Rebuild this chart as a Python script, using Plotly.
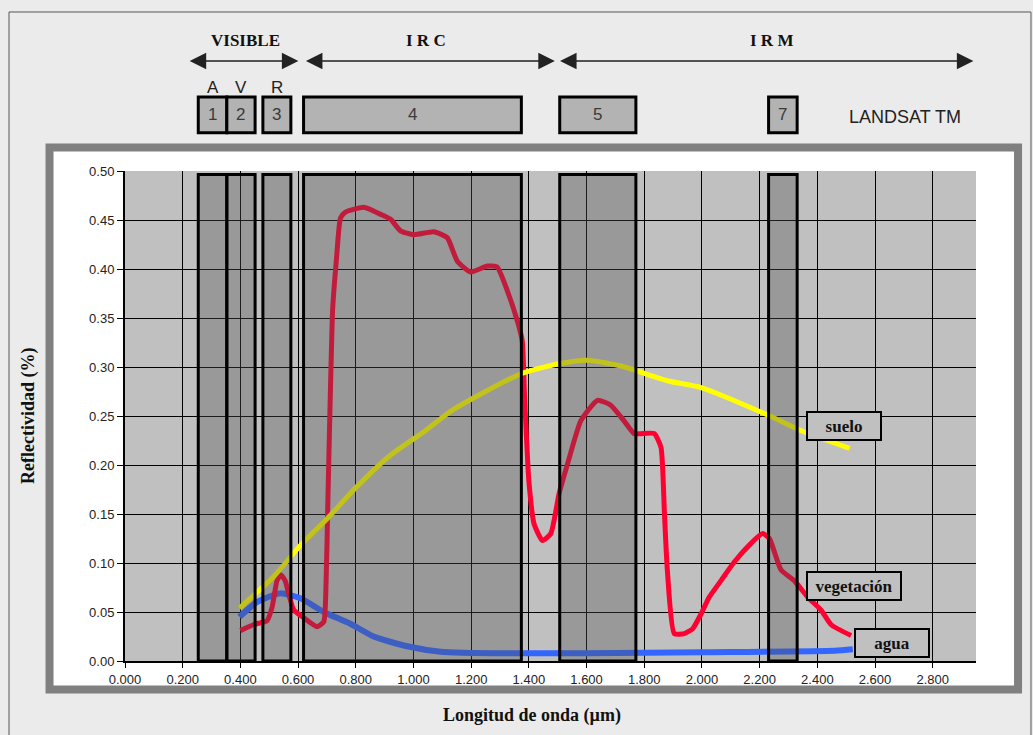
import plotly.graph_objects as go

# ---------------- data ----------------
veg_x = [0.400, 0.445, 0.469, 0.492, 0.510, 0.527, 0.540, 0.555, 0.567, 0.585, 0.620, 0.666, 0.689,
         0.697, 0.703, 0.710, 0.720, 0.733, 0.747, 0.764, 0.828, 0.885, 0.920, 0.955, 1.001, 1.070,
         1.117, 1.152, 1.198, 1.256, 1.290, 1.325, 1.360, 1.377, 1.385, 1.400, 1.418, 1.447, 1.476,
         1.505, 1.534, 1.580, 1.638, 1.684, 1.730, 1.765, 1.788, 1.835, 1.858, 1.870, 1.880, 1.904,
         1.939, 1.968, 1.997, 2.025, 2.066, 2.112, 2.170, 2.210, 2.234, 2.274, 2.320, 2.367, 2.413,
         2.448, 2.517]
veg_y = [0.031, 0.037, 0.039, 0.041, 0.055, 0.082, 0.088, 0.082, 0.069, 0.052, 0.044, 0.035, 0.040,
         0.080, 0.160, 0.250, 0.360, 0.410, 0.452, 0.458, 0.463, 0.456, 0.451, 0.439, 0.435, 0.438,
         0.432, 0.408, 0.397, 0.403, 0.402, 0.378, 0.347, 0.327, 0.270, 0.184, 0.140, 0.123, 0.130,
         0.171, 0.201, 0.245, 0.266, 0.261, 0.245, 0.232, 0.232, 0.232, 0.218, 0.150, 0.093, 0.028,
         0.028, 0.033, 0.048, 0.065, 0.082, 0.101, 0.120, 0.130, 0.125, 0.093, 0.082, 0.065, 0.052,
         0.037, 0.026]

soil_x = [0.397, 0.515, 0.608, 0.700, 0.804, 0.920, 1.036, 1.140, 1.372, 1.499, 1.600, 1.720,
          1.880, 1.997, 2.228, 2.344, 2.512]
soil_y = [0.054, 0.086, 0.118, 0.145, 0.178, 0.210, 0.234, 0.257, 0.293, 0.303, 0.307, 0.301,
          0.286, 0.279, 0.251, 0.235, 0.217]

water_x = [0.397, 0.457, 0.538, 0.608, 0.689, 0.781, 0.862, 0.978, 1.094, 1.325, 1.600, 2.000,
           2.460, 2.523]
water_y = [0.045, 0.060, 0.069, 0.064, 0.050, 0.038, 0.025, 0.015, 0.0095, 0.0078, 0.008, 0.009,
           0.0105, 0.012]

# Landsat TM bands (µm)
band_names = ["1", "2", "3", "4", "5", "7"]
band_start = [0.254, 0.353, 0.478, 0.619, 1.507, 2.231]
band_end = [0.353, 0.451, 0.575, 1.374, 1.771, 2.330]
band_top = 0.4965
colour_letters = ["A", "V", "R"]

# spectral regions (arrows)
region_names = ["VISIBLE", "I R C", "I R M"]
region_start = [0.219, 0.622, 1.503]
region_end = [0.601, 1.490, 2.941]
region_label_x = [0.417, 1.042, 2.240]

series_names = ["suelo", "vegetación", "agua"]
label_x = [2.494, 2.528, 2.658]
label_y = [0.2396, 0.0769, 0.0188]
label_w = [70, 90, 70]

x_ticks = [0.0, 0.2, 0.4, 0.6, 0.8, 1.0, 1.2, 1.4, 1.6, 1.8, 2.0, 2.2, 2.4, 2.6, 2.8]
x_ticktext = ["0.000", "0.200", "0.400", "0.600", "0.800", "1.000", "1.200", "1.400", "1.600",
              "1.800", "2.000", "2.200", "2.400", "2.600", "2.800"]
y_ticks = [0.0, 0.05, 0.10, 0.15, 0.20, 0.25, 0.30, 0.35, 0.40, 0.45, 0.50]
y_ticktext = ["0.00", "0.05", "0.10", "0.15", "0.20", "0.25", "0.30", "0.35", "0.40", "0.45", "0.50"]

# ---------------- figure ----------------
SERIF = "Liberation Serif"
SANS = "Liberation Sans"

fig = go.Figure()
fig.add_trace(go.Scatter(x=water_x, y=water_y, mode="lines", name="agua",
                         line=dict(color="#3366ff", width=6, shape="spline", smoothing=0.6)))
fig.add_trace(go.Scatter(x=veg_x, y=veg_y, mode="lines", name="vegetación",
                         line=dict(color="#ff0033", width=5, shape="spline", smoothing=0.5)))
fig.add_trace(go.Scatter(x=soil_x, y=soil_y, mode="lines", name="suelo",
                         line=dict(color="#ffff00", width=5, shape="spline", smoothing=0.6)))

shapes = []
# thin outer border of the picture
shapes.append(dict(type="rect", xref="paper", yref="paper", x0=-0.1363, x1=1.0646, y0=-0.25, y1=1.3245,
                   line=dict(color="#555555", width=1), fillcolor="rgba(0,0,0,0)", layer="below"))
# grey frame with white inside
shapes.append(dict(type="rect", xref="paper", yref="paper", x0=-0.0887, x1=1.0494, y0=-0.0582, y1=1.048,
                   line=dict(color="#808080", width=8), fillcolor="white", layer="below"))
# plot background
shapes.append(dict(type="rect", xref="paper", yref="paper", x0=0, x1=1, y0=0, y1=1,
                   line=dict(width=0), fillcolor="#c0c0c0", layer="below"))
# bands in the plot
for s, e in zip(band_start, band_end):
    shapes.append(dict(type="rect", xref="x", yref="y", x0=s, x1=e, y0=0, y1=band_top,
                       line=dict(color="black", width=3), fillcolor="rgba(80,80,80,0.35)", layer="above"))
# band boxes in the header
for s, e in zip(band_start, band_end):
    shapes.append(dict(type="rect", xref="x", yref="paper", x0=s, x1=e, y0=1.078, y1=1.151,
                       line=dict(color="black", width=3), fillcolor="#b3b3b3", layer="above"))
fig.update_layout(shapes=shapes)

C = dict(xanchor="center", yanchor="middle")
ann = []
for n, s, e in zip(band_names, band_start, band_end):
    ann.append(dict(xref="x", yref="paper", x=(s + e) / 2, y=1.1145, text=n, showarrow=False, **C,
                    font=dict(family=SANS, size=17, color="#3a3a3a")))
for n, s, e in zip(colour_letters, band_start[:3], band_end[:3]):
    ann.append(dict(xref="x", yref="paper", x=(s + e) / 2, y=1.171, text=n, showarrow=False, **C,
                    font=dict(family=SANS, size=17, color="#222222")))
for n, s, e, lx in zip(region_names, region_start, region_end, region_label_x):
    ann.append(dict(xref="x", yref="paper", x=e, y=1.2245, axref="x", ayref="pixel", ax=s, ay=0,
                    text="", showarrow=True, arrowside="end+start", arrowhead=2, arrowsize=2.2,
                    arrowwidth=1.5, arrowcolor="#222222", standoff=0, startstandoff=0))
    ann.append(dict(xref="x", yref="paper", x=lx, y=1.267, text=n, showarrow=False, **C,
                    font=dict(family=SERIF, size=17, color="#111111", weight="bold")))
ann.append(dict(xref="paper", yref="paper", x=0.9166, y=1.110, text="LANDSAT TM", showarrow=False, **C,
                font=dict(family=SANS, size=18, color="#222222")))
for n, lx, ly, w in zip(series_names, label_x, label_y, label_w):
    ann.append(dict(xref="x", yref="y", x=lx, y=ly, text=n, showarrow=False, width=w, height=24, **C,
                    bgcolor="#c0c0c0", bordercolor="black", borderwidth=2, borderpad=1,
                    font=dict(family=SERIF, size=17, color="#111111", weight="bold")))
ann.append(dict(xref="paper", yref="paper", x=-0.114, y=0.5, text="Reflectividad (%)", textangle=-90,
                showarrow=False, **C, font=dict(family=SERIF, size=18, color="#111111", weight="bold")))
ann.append(dict(xref="paper", yref="paper", x=0.478, y=-0.112, text="Longitud de onda (µm)",
                showarrow=False, **C, font=dict(family=SERIF, size=18, color="#111111", weight="bold")))
fig.update_layout(annotations=ann)

fig.update_layout(
    width=1033, height=735,
    margin=dict(l=125, r=57, t=171, b=74, pad=0),
    paper_bgcolor="#ebebeb",
    plot_bgcolor="rgba(0,0,0,0)",
    showlegend=False,
    xaxis=dict(range=[0, 2.95], tickvals=x_ticks, ticktext=x_ticktext, showgrid=True,
               gridcolor="black", gridwidth=1, zeroline=False, showline=True, linecolor="black",
               linewidth=2, ticks="outside", ticklen=5, tickcolor="black",
               tickfont=dict(family=SANS, size=13, color="#222222")),
    yaxis=dict(range=[0, 0.5], tickvals=y_ticks, ticktext=y_ticktext, showgrid=True,
               gridcolor="black", gridwidth=1, zeroline=False, showline=True, linecolor="black",
               linewidth=2, ticks="outside", ticklen=6, tickcolor="black",
               tickfont=dict(family=SANS, size=13, color="#222222")),
)

fig.write_html("out.html", config={"displayModeBar": False},
               post_script="document.body.style.margin='0';document.body.style.background='#ebebeb';")
